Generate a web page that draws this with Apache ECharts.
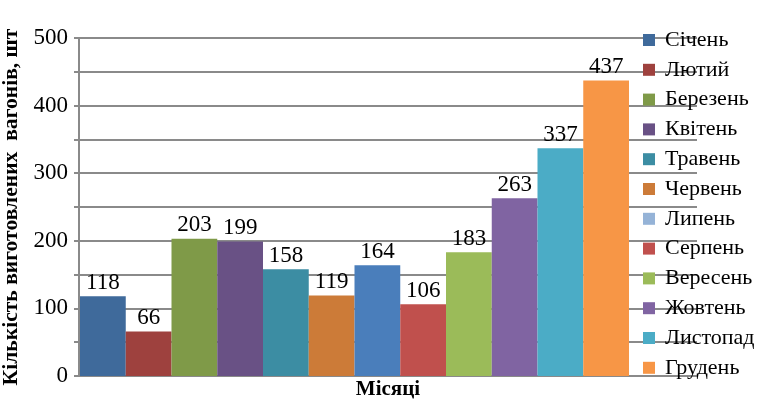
<!DOCTYPE html>
<html><head><meta charset="utf-8">
<script src="https://cdn.jsdelivr.net/npm/echarts@6/dist/echarts.min.js"></script>
<style>html,body{margin:0;padding:0;background:#fff}#c{width:768px;height:402px}</style>
</head><body><div id="c"></div>
<script>
const months = ['Січень','Лютий','Березень','Квітень','Травень','Червень','Липень','Серпень','Вересень','Жовтень','Листопад','Грудень'];
const values = [118, 66, 203, 199, 158, 119, 164, 106, 183, 263, 337, 437];
const barColors = ['#3F6A9B','#9E413E','#7F9A48','#695185','#3C8DA3','#CC7B38','#4A7EBB','#C0504D','#9BBB59','#8064A2','#4BACC6','#F79646'];
const legendColors = ['#3F6A9B','#9E413E','#7F9A48','#695185','#3C8DA3','#CC7B38','#95B3D7','#C0504D','#9BBB59','#8064A2','#4BACC6','#F79646'];
const yTicks = [0, 100, 200, 300, 400, 500];

const serif = '"Liberation Serif","Times New Roman",serif';
const chart = echarts.init(document.getElementById('c'));
const series = months.map((m, i) => ({
  name: m, type: 'bar', stack: 'all', xAxisIndex: 0, yAxisIndex: 0,
  barCategoryGap: '0%',
  itemStyle: {color: barColors[i]},
  label: {show: true, position: 'top', distance: 2, color: '#000', fontFamily: serif, fontSize: 23,
          formatter: p => p.value == null ? '' : String(p.value)},
  data: months.map((_, j) => j === i ? values[i] : null)
}));
chart.setOption({
  animation: false,
  grid: [
    {left: 80, right: 139, top: 38, bottom: 26, containLabel: false, outerBoundsMode: 'none'},
    {left: 79, right: 71, top: 38, bottom: 26, containLabel: false, outerBoundsMode: 'none'}
  ],
  xAxis: [
    {type: 'category', gridIndex: 0, data: months, show: false},
    {type: 'value', gridIndex: 1, min: 0, max: 1, axisLine: {show: true, lineStyle: {color: '#8a8a8a', width: 2}},
     axisTick: {show: false}, axisLabel: {show: false}, splitLine: {show: false},
     name: 'Місяці', nameLocation: 'middle', nameGap: 3,
     nameTextStyle: {fontFamily: serif, fontWeight: 'bold', fontSize: 21, color: '#000', verticalAlign: 'top'}}
  ],
  yAxis: [
    {type: 'value', gridIndex: 0, min: 0, max: 500, interval: 50, show: false, splitLine: {show: false}},
    {type: 'value', gridIndex: 1, min: 0, max: 500, interval: 50,
     axisLine: {show: true, lineStyle: {color: '#8a8a8a', width: 2}},
     axisTick: {show: true, inside: false, length: 5, lineStyle: {color: '#8a8a8a', width: 2}},
     axisLabel: {fontFamily: serif, fontSize: 23, color: '#000', margin: 11,
                 formatter: v => yTicks.includes(v) ? String(v) : ''},
     splitLine: {show: true, lineStyle: {color: '#8a8a8a', width: 2}},
     name: 'Кількість виготовлених  вагонів, шт', nameLocation: 'middle', nameGap: 48, nameRotate: 90,
     nameTextStyle: {fontFamily: serif, fontWeight: 'bold', fontSize: 21.6, color: '#000'}}
  ],
  legend: {
    orient: 'vertical', left: 638, top: 24, height: 372, itemWidth: 12, itemHeight: 12, itemGap: 7.8,
    icon: 'rect',
    textStyle: {fontFamily: serif, fontSize: 22, color: '#000', lineHeight: 20, padding: [0, 0, 0, 5]},
    data: months.map((m, i) => ({name: m, itemStyle: {color: legendColors[i]}}))
  },
  series: series
});
</script></body></html>
